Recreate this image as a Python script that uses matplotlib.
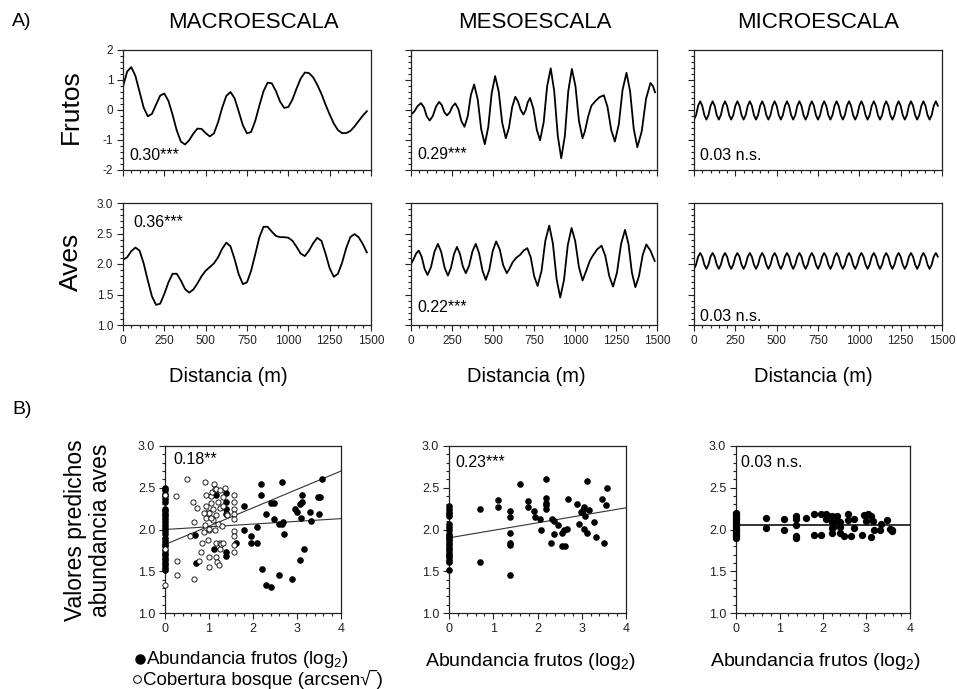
import numpy as np
import matplotlib.pyplot as plt
from matplotlib.ticker import MultipleLocator, NullFormatter

plt.rcParams['font.family'] = ['Liberation Sans', 'DejaVu Sans']
plt.rcParams['mathtext.fontset'] = 'custom'
plt.rcParams['mathtext.rm'] = 'Liberation Sans'
plt.rcParams['mathtext.it'] = 'Liberation Sans:italic'
plt.rcParams['axes.unicode_minus'] = False

W, H = 957, 689

# ---------------- A) curves along the transect (distance in m) ----------------
scales = ['MACROESCALA', 'MESOESCALA', 'MICROESCALA']

dist_macro = np.arange(0, 1500, 25)
frutos_macro = [0.78, 1.28, 1.43, 1.14, 0.61, 0.08, -0.21, -0.13, 0.18, 0.48,
                0.55, 0.30, -0.16, -0.68, -1.05, -1.15, -1.01, -0.79, -0.62, -0.63,
                -0.77, -0.88, -0.78, -0.41, 0.08, 0.47, 0.60, 0.39, -0.05, -0.51,
                -0.78, -0.73, -0.36, 0.15, 0.63, 0.91, 0.89, 0.63, 0.28, 0.07,
                0.10, 0.35, 0.72, 1.05, 1.25, 1.23, 1.09, 0.84, 0.54, 0.18,
                -0.15, -0.45, -0.67, -0.77, -0.77, -0.70, -0.55, -0.37, -0.19, -0.04]
aves_macro = [2.07, 2.11, 2.21, 2.27, 2.22, 2.01, 1.73, 1.47, 1.33, 1.35,
              1.51, 1.70, 1.84, 1.84, 1.73, 1.59, 1.53, 1.58, 1.68, 1.80,
              1.89, 1.95, 2.01, 2.11, 2.25, 2.35, 2.29, 2.08, 1.83, 1.67,
              1.70, 1.89, 2.16, 2.44, 2.61, 2.61, 2.53, 2.46, 2.44, 2.44,
              2.43, 2.38, 2.28, 2.17, 2.13, 2.22, 2.34, 2.43, 2.38, 2.17,
              1.93, 1.79, 1.84, 2.02, 2.26, 2.44, 2.49, 2.44, 2.33, 2.19]

dist_meso_frutos = [0, 20, 40, 61, 79, 96, 114, 133, 153, 172, 188, 203, 219, 236, 253,
                    270, 289, 307, 326, 346, 365, 385, 407, 428, 450, 471, 492, 513,
                    535, 556, 578, 597, 617, 636, 652, 669, 685, 699, 712, 726, 746,
                    767, 787, 809, 830, 852, 873, 895, 916, 938, 959, 981, 1003, 1024,
                    1046, 1060, 1080, 1100, 1125, 1150, 1176, 1198, 1221, 1243, 1267,
                    1290, 1314, 1336, 1358, 1380, 1407, 1433, 1460, 1475, 1488]
frutos_meso = [-0.16, -0.05, 0.13, 0.23, 0.09, -0.21, -0.35, -0.20, 0.12, 0.27, 0.16,
               -0.07, -0.18, -0.08, 0.12, 0.22, 0.03, -0.37, -0.56, -0.21, 0.50, 0.85,
               0.35, -0.64, -1.14, -0.57, 0.56, 1.13, 0.61, -0.42, -0.94, -0.60, 0.10,
               0.44, 0.29, 0.00, -0.15, -0.01, 0.26, 0.40, 0.05, -0.66, -1.01, -0.41,
               0.79, 1.39, 0.64, -0.86, -1.61, -0.87, 0.63, 1.37, 0.79, -0.36, -0.94,
               -0.72, -0.22, 0.14, 0.30, 0.43, 0.49, 0.11, -0.67, -1.05, -0.48, 0.67,
               1.24, 0.62, -0.62, -1.24, -0.71, 0.37, 0.90, 0.80, 0.59]

dist_meso_aves = [0, 16, 31, 47, 65, 83, 101, 122, 143, 164, 184, 205, 225, 243, 262,
                  280, 298, 316, 334, 354, 375, 395, 415, 436, 456, 477, 498, 519, 541,
                  562, 584, 600, 620, 641, 665, 687, 709, 730, 751, 772, 796, 819, 843,
                  865, 888, 910, 933, 956, 979, 1001, 1024, 1046, 1070, 1090, 1107,
                  1135, 1162, 1185, 1209, 1232, 1256, 1281, 1305, 1326, 1347, 1368,
                  1390, 1413, 1435, 1460, 1486]
aves_meso = [2.00, 2.08, 2.17, 2.22, 2.12, 1.92, 1.82, 1.95, 2.20, 2.33, 2.20, 1.94,
             1.81, 1.93, 2.16, 2.28, 2.17, 1.96, 1.85, 1.97, 2.21, 2.33, 2.18, 1.89,
             1.74, 1.90, 2.21, 2.37, 2.24, 1.98, 1.85, 1.92, 2.03, 2.10, 2.15, 2.22,
             2.26, 2.11, 1.80, 1.64, 1.89, 2.38, 2.63, 2.34, 1.75, 1.45, 1.74, 2.31,
             2.59, 2.38, 1.95, 1.73, 1.90, 2.05, 2.13, 2.24, 2.30, 2.13, 1.80, 1.63,
             1.86, 2.33, 2.56, 2.33, 1.86, 1.62, 1.80, 2.15, 2.32, 2.22, 2.05]

dist_micro = np.arange(0, 1487.5, 12.5)
frutos_micro = [-0.32, -0.17, 0.14, 0.29, 0.14, -0.17,
                -0.32, -0.17, 0.14, 0.29, 0.14, -0.17,
                -0.32, -0.17, 0.14, 0.29, 0.14, -0.17,
                -0.32, -0.17, 0.14, 0.29, 0.14, -0.17,
                -0.32, -0.17, 0.14, 0.29, 0.14, -0.17,
                -0.32, -0.17, 0.14, 0.29, 0.14, -0.17,
                -0.32, -0.17, 0.14, 0.29, 0.14, -0.17,
                -0.32, -0.17, 0.14, 0.29, 0.14, -0.17,
                -0.32, -0.17, 0.14, 0.29, 0.14, -0.17,
                -0.32, -0.17, 0.14, 0.29, 0.14, -0.17,
                -0.32, -0.17, 0.14, 0.29, 0.14, -0.17,
                -0.32, -0.17, 0.14, 0.29, 0.14, -0.17,
                -0.32, -0.17, 0.14, 0.29, 0.14, -0.17,
                -0.32, -0.17, 0.14, 0.29, 0.14, -0.17,
                -0.32, -0.17, 0.14, 0.29, 0.14, -0.17,
                -0.32, -0.17, 0.14, 0.29, 0.14, -0.17,
                -0.32, -0.17, 0.14, 0.29, 0.14, -0.17,
                -0.32, -0.17, 0.14, 0.29, 0.14, -0.17,
                -0.32, -0.17, 0.14, 0.29, 0.14, -0.17,
                -0.32, -0.17, 0.14, 0.29, 0.14]
aves_micro = [1.92, 1.99, 2.12, 2.18, 2.12, 1.99,
              1.92, 1.99, 2.12, 2.18, 2.12, 1.99,
              1.92, 1.99, 2.12, 2.18, 2.12, 1.99,
              1.92, 1.99, 2.12, 2.18, 2.12, 1.99,
              1.92, 1.99, 2.12, 2.18, 2.12, 1.99,
              1.92, 1.99, 2.12, 2.18, 2.12, 1.99,
              1.92, 1.99, 2.12, 2.18, 2.12, 1.99,
              1.92, 1.99, 2.12, 2.18, 2.12, 1.99,
              1.92, 1.99, 2.12, 2.18, 2.12, 1.99,
              1.92, 1.99, 2.12, 2.18, 2.12, 1.99,
              1.92, 1.99, 2.12, 2.18, 2.12, 1.99,
              1.92, 1.99, 2.12, 2.18, 2.12, 1.99,
              1.92, 1.99, 2.12, 2.18, 2.12, 1.99,
              1.92, 1.99, 2.12, 2.18, 2.12, 1.99,
              1.92, 1.99, 2.12, 2.18, 2.12, 1.99,
              1.92, 1.99, 2.12, 2.18, 2.12, 1.99,
              1.92, 1.99, 2.12, 2.18, 2.12, 1.99,
              1.92, 1.99, 2.12, 2.18, 2.12, 1.99,
              1.92, 1.99, 2.12, 2.18, 2.12, 1.99,
              1.92, 1.99, 2.12, 2.18, 2.12]

r_frutos = ['0.30***', '0.29***', '0.03 n.s.']
r_aves = ['0.36***', '0.22***', '0.03 n.s.']

# ---------------- B) predicted bird abundance vs fruit / forest ----------------
# points sitting at abundance 0 (the vertical stacks)
macro_fruit_zero = [2.50, 2.47, 2.43, 2.40, 2.37, 2.33, 2.25, 2.22, 2.19, 2.16, 2.12,
                    2.09, 2.05, 2.02, 1.98, 1.95, 1.90, 1.86, 1.83, 1.80, 1.76, 1.72,
                    1.69, 1.66, 1.63, 1.60, 1.57, 1.54, 1.51]
macro_fruit_x = [0.69, 0.71, 1.11, 1.17, 1.39, 1.39, 1.39, 1.39, 1.38, 1.39, 1.62, 1.80,
                 1.80, 1.95, 1.95, 2.08, 2.08, 2.19, 2.19, 2.21, 2.29, 2.29, 2.40, 2.40,
                 2.48, 2.48, 2.58, 2.65, 2.65, 2.69, 2.71, 2.58, 2.88, 2.96, 2.99, 3.07,
                 3.17, 3.06, 3.12, 3.12, 3.09, 3.30, 3.32, 3.47, 3.53, 3.50, 3.57]
macro_fruit_y = [1.94, 1.60, 1.77, 2.41, 2.44, 2.33, 2.24, 2.19, 1.73, 1.68, 1.84, 2.28,
                 2.00, 1.92, 1.84, 1.84, 2.03, 2.55, 2.41, 1.53, 2.18, 1.33, 1.31, 2.32,
                 2.32, 2.12, 2.06, 2.06, 2.57, 2.09, 1.95, 1.45, 1.41, 2.24, 2.21, 1.63,
                 1.77, 2.31, 2.33, 2.41, 2.14, 2.21, 2.10, 2.39, 2.39, 2.19, 2.60]
macro_forest_x = [0.01, 0.24, 0.27, 0.27, 0.50, 0.63, 0.72, 0.67, 0.66, 0.56,
                  0.78, 0.81, 0.84, 0.90, 0.94, 0.88, 0.92, 0.94, 0.98, 0.98,
                  1.00, 1.01, 1.04, 1.05, 1.07, 1.09, 1.11, 1.13, 1.17, 1.20,
                  1.01, 0.99, 1.09, 1.17, 1.20, 1.13, 1.17, 1.24, 1.16, 1.19,
                  1.22, 1.24, 1.28, 1.32, 1.36, 1.32, 1.26, 1.30, 1.42, 1.42,
                  1.57, 1.57, 1.57, 1.57, 1.57, 1.57, 1.57, 1.57, 1.57,
                  0.94, 1.01, 1.05, 1.32, 1.25, 0.88, 0.00, 0.00]
macro_forest_y = [1.33, 2.40, 1.62, 1.45, 2.60, 2.33, 2.26, 2.09, 1.41, 1.92,
                  1.62, 1.73, 1.84, 2.57, 2.41, 1.97, 2.05, 2.14, 2.21, 1.88,
                  1.55, 1.67, 2.40, 2.32, 2.45, 2.24, 2.55, 2.48, 2.48, 2.33,
                  1.99, 2.01, 2.11, 2.17, 2.07, 1.99, 1.84, 1.84, 1.67, 1.61,
                  1.58, 1.77, 1.83, 1.84, 2.50, 2.39, 2.26, 2.04, 2.19, 2.17,
                  2.41, 2.33, 2.24, 2.19, 2.13, 1.98, 1.92, 1.82, 1.73,
                  2.28, 2.20, 2.14, 2.28, 2.47, 2.20, 1.77, 2.41]

meso_zero = [2.28, 2.24, 2.21, 2.19, 2.16, 2.06, 2.03, 2.00, 1.95, 1.92, 1.90, 1.87,
             1.84, 1.81, 1.78, 1.75, 1.72, 1.70, 1.67, 1.64, 1.61, 1.51]
meso_x = [0.70, 0.70, 1.10, 1.10, 1.38, 1.38, 1.38, 1.38, 1.38, 1.38, 1.60, 1.78, 1.78,
          1.93, 1.94, 2.06, 2.07, 2.19, 2.19, 2.19, 2.19, 2.19, 2.30, 2.32, 2.37, 2.38,
          2.47, 2.55, 2.55, 2.62, 2.60, 2.66, 2.70, 2.89, 2.94, 2.98, 3.02, 3.08, 3.04,
          3.06, 3.12, 3.12, 3.17, 3.27, 3.33, 3.46, 3.51, 3.55, 3.57]
meso_y = [2.25, 1.61, 2.35, 2.27, 2.22, 2.15, 1.96, 1.84, 1.81, 1.45, 2.55, 2.34, 2.27,
          2.22, 2.15, 2.13, 2.00, 2.60, 2.38, 2.32, 2.29, 2.25, 1.84, 2.12, 2.10, 1.95,
          2.05, 1.96, 1.80, 1.80, 2.00, 2.01, 2.36, 2.31, 2.06, 2.21, 2.23, 2.16, 2.27,
          2.01, 1.96, 2.58, 2.23, 2.09, 1.91, 2.36, 1.84, 2.29, 2.50]

micro_zero = [2.20, 2.18, 2.16, 2.14, 2.12, 2.10, 2.08, 2.06, 2.04, 2.02, 2.00, 1.98,
              1.96, 1.94, 1.92, 1.90]
micro_x = [0.69, 0.69, 1.10, 1.10, 1.38, 1.38, 1.38, 1.38, 1.38, 1.61, 1.79, 1.79, 1.95,
           1.95, 2.07, 2.07, 2.12, 2.20, 2.20, 2.20, 2.20, 2.32, 2.32, 2.40, 2.40, 2.49,
           2.57, 2.57, 2.64, 2.71, 2.71, 2.89, 2.95, 3.00, 3.04, 3.10, 3.10, 3.14, 3.18,
           3.30, 3.33, 3.46, 3.54, 3.58, 3.58, 2.40, 2.22]
micro_y = [2.14, 2.02, 2.12, 2.00, 2.16, 2.12, 2.05, 1.92, 1.90, 2.14, 2.18, 1.94, 2.18,
           1.93, 2.18, 2.12, 2.16, 2.16, 2.09, 2.02, 1.96, 2.16, 2.10, 2.09, 1.96, 1.92,
           2.19, 2.11, 1.92, 2.12, 2.02, 1.94, 2.17, 2.10, 2.19, 2.16, 1.91, 2.10, 2.00,
           2.00, 2.06, 2.11, 2.01, 1.98, 2.00, 2.03, 2.03]

# fitted lines, read at abundance 0 and 4
fit_x = [0, 4]
macro_fit_fruit = [1.82, 2.70]
macro_fit_forest = [2.00, 2.13]
meso_fit = [1.90, 2.26]
micro_fit = [2.05, 2.05]

r_pred = ['0.18**', '0.23***', '0.03 n.s.']


fig = plt.figure(figsize=(W / 100, H / 100), dpi=100)


def px_axes(x0, x1, y0, y1):
    # axes from pixel box (top-left origin)
    return fig.add_axes([x0 / W, 1 - y1 / H, (x1 - x0) / W, (y1 - y0) / H])


def ftext(x, y, s, **kw):
    fig.text(x / W, 1 - y / H, s, **kw)


def style(ax, labelsize=8.5):
    for sp in ax.spines.values():
        sp.set_linewidth(0.9)
        sp.set_color('#222222')
    ax.tick_params(which='both', direction='out', width=0.8, color='#222222',
                   labelsize=labelsize, labelcolor='#222222', pad=3)
    ax.tick_params(which='major', length=4)
    ax.tick_params(which='minor', length=2.3)


col_x = [(123, 371), (411, 657), (694, 942)]
row_frutos = (50, 170)
row_aves = (203, 325)

dist_frutos = [dist_macro, dist_meso_frutos, dist_micro]
dist_aves = [dist_macro, dist_meso_aves, dist_micro]
series_frutos = [frutos_macro, frutos_meso, frutos_micro]
series_aves = [aves_macro, aves_meso, aves_micro]
pos_r_frutos = [(0.025, 0.12), (0.025, 0.13), (0.025, 0.12)]
pos_r_aves = [(0.04, 0.84), (0.025, 0.14), (0.025, 0.07)]

for i in range(3):
    x0, x1 = col_x[i]

    ax = px_axes(x0, x1, row_frutos[0], row_frutos[1])
    ax.plot(dist_frutos[i], series_frutos[i], color='black', lw=1.3,
            solid_joinstyle='round')
    ax.set_xlim(0, 1500)
    ax.set_ylim(-2, 2)
    ax.xaxis.set_major_locator(MultipleLocator(250))
    ax.xaxis.set_minor_locator(MultipleLocator(50))
    ax.yaxis.set_major_locator(MultipleLocator(1))
    ax.yaxis.set_minor_locator(MultipleLocator(0.2))
    ax.xaxis.set_major_formatter(NullFormatter())
    if i > 0:
        ax.yaxis.set_major_formatter(NullFormatter())
    style(ax)
    ax.text(pos_r_frutos[i][0], pos_r_frutos[i][1], r_frutos[i], transform=ax.transAxes,
            fontsize=11.5, va='center', ha='left')

    ax = px_axes(x0, x1, row_aves[0], row_aves[1])
    ax.plot(dist_aves[i], series_aves[i], color='black', lw=1.3,
            solid_joinstyle='round')
    ax.set_xlim(0, 1500)
    ax.set_ylim(1, 3)
    ax.xaxis.set_major_locator(MultipleLocator(250))
    ax.xaxis.set_minor_locator(MultipleLocator(50))
    ax.yaxis.set_major_locator(MultipleLocator(0.5))
    ax.yaxis.set_minor_locator(MultipleLocator(0.1))
    if i > 0:
        ax.yaxis.set_major_formatter(NullFormatter())
    style(ax)
    ax.text(pos_r_aves[i][0], pos_r_aves[i][1], r_aves[i], transform=ax.transAxes,
            fontsize=11.5, va='center', ha='left')

# titles and labels of part A
for name, cx in zip(scales, [254, 535, 818]):
    ftext(cx, 22, name, fontsize=16, ha='center', va='center')
for cx in [228, 526, 813]:
    ftext(cx, 376, 'Distancia (m)', fontsize=14.5, ha='center', va='center')
ftext(71, 107, 'Frutos', fontsize=19, rotation=90, ha='center', va='center')
ftext(71, 262, 'Aves', fontsize=19, rotation=90, ha='center', va='center')
ftext(12, 21, 'A)', fontsize=14, ha='left', va='center')
ftext(12, 410, 'B)', fontsize=14, ha='left', va='center')

# ---------------- part B ----------------
colB = [(165, 341), (449, 626), (736, 910)]
rowB = (446, 613)
pos_r_pred = [(0.045, 0.92), (0.035, 0.90), (0.03, 0.90)]
ms = 14

axes_b = []
for i in range(3):
    x0, x1 = colB[i]
    ax = px_axes(x0, x1, rowB[0], rowB[1])
    ax.set_xlim(0, 4)
    ax.set_ylim(1, 3)
    ax.xaxis.set_major_locator(MultipleLocator(1))
    ax.xaxis.set_minor_locator(MultipleLocator(0.2))
    ax.yaxis.set_major_locator(MultipleLocator(0.5))
    ax.yaxis.set_minor_locator(MultipleLocator(0.1))
    style(ax, labelsize=9)
    ax.text(pos_r_pred[i][0], pos_r_pred[i][1], r_pred[i], transform=ax.transAxes,
            fontsize=11.5, va='center', ha='left')
    axes_b.append(ax)

ax = axes_b[0]
ax.plot(fit_x, macro_fit_fruit, color='#333333', lw=0.8, zorder=2)
ax.plot(fit_x, macro_fit_forest, color='#333333', lw=0.8, zorder=2)
ax.scatter(np.zeros(len(macro_fruit_zero)), macro_fruit_zero, s=ms, color='black',
           zorder=3, clip_on=False)
ax.scatter(macro_fruit_x, macro_fruit_y, s=ms, color='black', zorder=3)
ax.scatter(macro_forest_x, macro_forest_y, s=ms, facecolor='white', edgecolor='black',
           linewidth=0.6, zorder=4, clip_on=False)

ax = axes_b[1]
ax.plot(fit_x, meso_fit, color='#333333', lw=0.8, zorder=2)
ax.scatter(np.zeros(len(meso_zero)), meso_zero, s=ms, color='black', zorder=3,
           clip_on=False)
ax.scatter(meso_x, meso_y, s=ms, color='black', zorder=3)

ax = axes_b[2]
ax.plot(fit_x, micro_fit, color='#333333', lw=1.4, zorder=2)
ax.scatter(np.zeros(len(micro_zero)), micro_zero, s=ms + 4, color='black', zorder=3,
           clip_on=False)
ax.scatter(micro_x, micro_y, s=ms + 4, color='black', zorder=3)

# labels of part B
ftext(88, 530, 'Valores predichos\nabundancia aves', fontsize=16.5, rotation=90,
      ha='center', va='center', linespacing=1.15)
ftext(530, 662, 'Abundancia frutos (log$_2$)', fontsize=14, ha='center', va='center')
ftext(815, 662, 'Abundancia frutos (log$_2$)', fontsize=14, ha='center', va='center')
fig.lines.append(plt.Line2D([140 / W], [1 - 659 / H], transform=fig.transFigure,
                            marker='o', markersize=6.5, color='black', linestyle='none'))
fig.lines.append(plt.Line2D([137 / W], [1 - 679 / H], transform=fig.transFigure,
                            marker='o', markersize=5.5, markerfacecolor='white',
                            markeredgecolor='black', markeredgewidth=0.7,
                            linestyle='none'))
ftext(146, 659, 'Abundancia frutos (log$_2$)', fontsize=13.5, ha='left', va='center')
ftext(143, 679, 'Cobertura bosque (arcsen\u221a\u203e)', fontsize=13.5, ha='left',
      va='center')

fig.savefig('out.png', dpi=100)
